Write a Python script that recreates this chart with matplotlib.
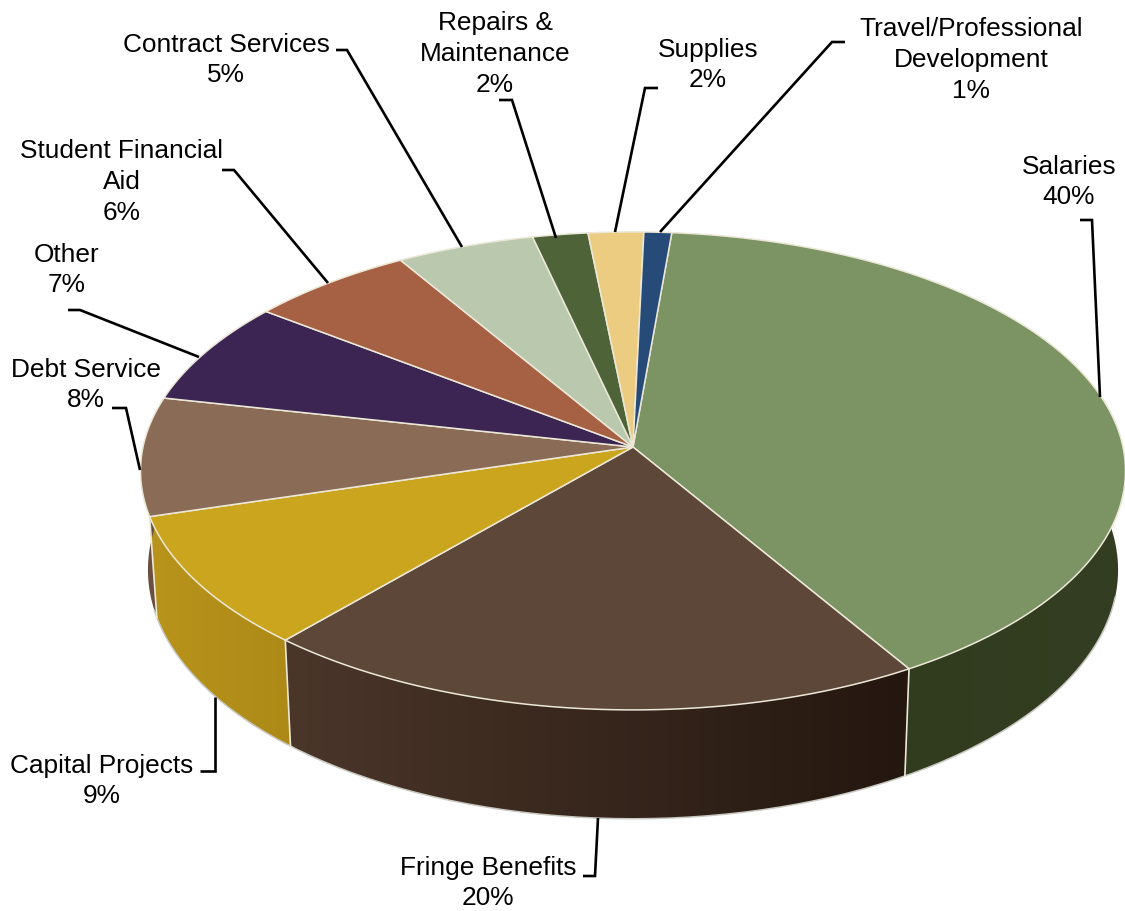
import numpy as np
import matplotlib
matplotlib.use("Agg")
import matplotlib.pyplot as plt
from matplotlib.colors import LinearSegmentedColormap
from matplotlib.patches import Polygon

plt.rcParams["font.family"] = ["Liberation Sans", "DejaVu Sans"]

categories = ["Salaries", "Fringe Benefits", "Capital Projects", "Debt Service", "Other",
              "Student Financial\nAid", "Contract Services", "Repairs &\nMaintenance",
              "Supplies", "Travel/Professional\nDevelopment"]
values = [40, 20, 9, 8, 7, 6, 5, 2, 2, 1]
top_colors = ["#7c9364", "#5c4738", "#cca51e", "#8a6b55", "#3c2553",
              "#a66044", "#bac8ae", "#4f6339", "#eccc80", "#274b78"]
side_left = ["#2f3a1c", "#4b362a", "#b8941c", "#6a5040", "#2a1a3a",
             "#744330", "#8a9580", "#3a4a2a", "#b09860", "#1c3858"]
side_right = ["#333e22", "#24170f", "#ad8a17", "#6a5040", "#2a1a3a",
              "#744330", "#8a9580", "#3a4a2a", "#b09860", "#1c3858"]

# label centre and leader path for each slice, in figure pixels
label_xy = [(1069, 182), (488, 883), (102, 781), (86, 385), (67, 270),
            (122, 182), (226, 60), (495, 54), (708, 65), (971, 60)]
leaders = [[(1080, 220), (1092, 220), (1100, 397)],
           [(583, 876), (595, 876), (598, 818)],
           [(200, 771), (215, 771), (215, 697)],
           [(112, 408), (126, 408), (140, 470)],
           [(68, 310), (80, 310), (199, 357)],
           [(222, 170), (234, 170), (328, 283)],
           [(336, 50), (347, 50), (462, 247)],
           [(499, 100), (512, 100), (556, 238)],
           [(658, 88), (645, 88), (615, 232)],
           [(845, 42), (832, 42), (660, 232)]]

# pie geometry: a tilted disc seen in perspective
cx, cy = 633, 447
rx, ry = 490, 236.6
persp = 0.10
thick = 98
shrink = 0.985
start_deg = 5.0
edge_col = "#ece8d8"


def top_pt(deg):
    t = np.radians(deg)
    w = 1 + persp * np.cos(t)
    return cx + rx * np.sin(t) / w, cy - ry * np.cos(t) / w


def bottom_pt(deg):
    t = np.radians(deg)
    w = 1 + persp * np.cos(t)
    return cx + shrink * rx * np.sin(t) / w, cy - ry * np.cos(t) / w + thick / w


fig = plt.figure(figsize=(11.25, 9.11), dpi=100)
ax = fig.add_axes([0, 0, 1, 1])

edges = start_deg + np.cumsum([0] + values) * 3.6
ramp = np.linspace(0, 1, 256).reshape(1, -1)

# side wall of each slice, a left to right colour ramp clipped to its outline
for i in range(len(values)):
    arc = np.linspace(edges[i], edges[i + 1], 120)
    outline = [top_pt(d) for d in arc] + [bottom_pt(d) for d in arc[::-1]]
    wall = Polygon(outline, closed=True, facecolor="none", edgecolor="none", transform=ax.transData)
    ax.add_patch(wall)
    xs = [p[0] for p in outline]
    ys = [p[1] for p in outline]
    cmap = LinearSegmentedColormap.from_list(f"wall{i}", [side_left[i], side_right[i]])
    im = ax.imshow(ramp, cmap=cmap, extent=(min(xs), max(xs), max(ys), min(ys)), aspect="auto", zorder=2)
    im.set_clip_path(wall)

ax.set_xlim(0, 1125)
ax.set_ylim(911, 0)
ax.axis("off")

# pale rim along the bottom of the wall and the seams between slices
rim = np.arange(102, 256, 1.0)
bx, by = zip(*[bottom_pt(d) for d in rim])
ax.plot(bx, by, color="#c8c8c0", lw=1.1, zorder=3)
for e in edges:
    if 95 < e % 360 < 262:
        p, q = top_pt(e), bottom_pt(e)
        ax.plot([p[0], q[0]], [p[1], q[1]], color=edge_col, lw=1.2, zorder=3)

# top face
for i in range(len(values)):
    arc = np.linspace(edges[i], edges[i + 1], 120)
    pts = [(cx, cy)] + [top_pt(d) for d in arc]
    ax.add_patch(Polygon(pts, closed=True, facecolor=top_colors[i], edgecolor=edge_col,
                         linewidth=1.1, joinstyle="round", zorder=4))

for i, cat in enumerate(categories):
    ax.text(label_xy[i][0], label_xy[i][1], f"{cat}\n{values[i]}%", ha="center", va="center",
            fontsize=18.9, linespacing=1.35, color="black", zorder=6)
    xs, ys = zip(*leaders[i])
    ax.plot(xs, ys, color="black", lw=1.9, solid_joinstyle="miter", solid_capstyle="butt", zorder=5)

fig.savefig("out.png", dpi=100, facecolor="white")
